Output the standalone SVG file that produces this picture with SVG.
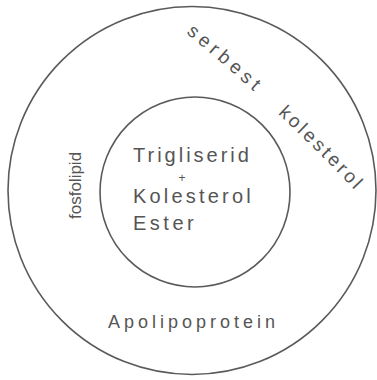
<svg xmlns="http://www.w3.org/2000/svg" width="377" height="380" viewBox="0 0 377 380">
<style>
.ring{fill:none;stroke:#5a5a5a;stroke-width:1.6}
.t{font-family:"Liberation Sans","DejaVu Sans",sans-serif;fill:#555}
</style>
<defs>
<path id="arc" d="M 186,33 Q 280,110 364,200"/>
</defs>
<rect width="377" height="380" fill="#fff"/>
<g id="outer">
<circle class="ring" cx="192" cy="190.5" r="184"/>
</g>
<g id="inner">
<circle class="ring" cx="195" cy="192" r="95"/>
<text class="t" x="133" y="162" font-size="20" letter-spacing="3">Trigliserid</text>
<text class="t" x="182" y="182" font-size="12" text-anchor="middle">+</text>
<text class="t" x="133" y="203" font-size="20" letter-spacing="3.2">Kolesterol</text>
<text class="t" x="133" y="230" font-size="20" letter-spacing="3.5">Ester</text>
</g>
<g id="fosfolipid">
<text class="t" transform="translate(81,219) rotate(-90)" font-size="17">fosfolipid</text>
</g>
<g id="apolipoprotein">
<text class="t" x="108" y="328" font-size="18" letter-spacing="4">Apolipoprotein</text>
</g>
<g id="serbest-kolesterol">
<text class="t" font-size="19" letter-spacing="4.5"><textPath href="#arc">serbest</textPath></text>
<text class="t" font-size="19" letter-spacing="3"><textPath href="#arc" startOffset="122">kolesterol</textPath></text>
</g>
<g id="connectors"></g>
</svg>
